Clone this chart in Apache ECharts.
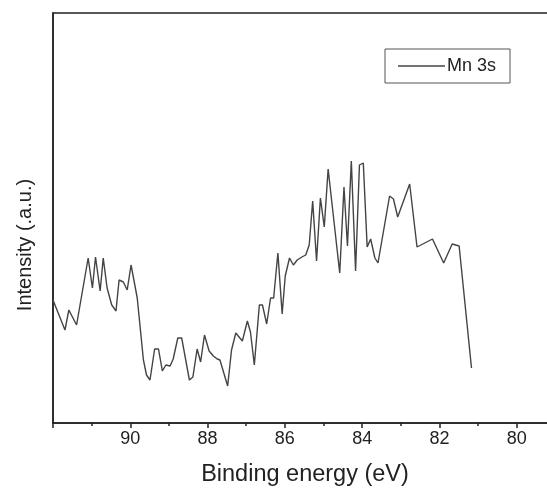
<!DOCTYPE html>
<html>
<head>
<meta charset="utf-8">
<script src="https://cdn.jsdelivr.net/npm/echarts@6/dist/echarts.min.js"></script>
<style>html,body{margin:0;padding:0;background:#fff}#c{width:547px;height:488px}</style>
</head>
<body>
<div id="c"></div>
<script>
// Binding energy (eV)
const energy = [92.0,91.69,91.59,91.39,91.09,90.98,90.90,90.78,90.70,90.60,90.48,90.37,90.29,90.18,90.08,89.98,89.82,89.66,89.58,89.49,89.37,89.27,89.17,89.08,88.97,88.89,88.77,88.67,88.47,88.38,88.27,88.18,88.08,87.96,87.85,87.75,87.68,87.58,87.48,87.38,87.27,87.10,86.97,86.89,86.79,86.66,86.58,86.47,86.37,86.29,86.18,86.07,85.99,85.88,85.78,85.68,85.56,85.46,85.37,85.28,85.18,85.08,84.98,84.88,84.58,84.47,84.38,84.28,84.17,84.07,83.97,83.87,83.78,83.67,83.59,83.29,83.19,83.08,82.77,82.58,82.18,81.89,81.67,81.49,81.17];
// Intensity (a.u.)
const intensity = [123,93,113,98,165,135,166,132,165,135,118,112,143,141,133,158,125,63,48,43,74,74,52,58,57,64,85,85,43,46,74,61,88,72,67,64,63,50,37,73,90,82,102,91,58,118,118,99,125,125,170,109,147,165,158,163,166,168,178,222,162,225,196,254,150,236,177,262,152,258,260,176,184,165,160,227,224,206,239,176,184,160,179,177,55];
const seriesName = 'Mn 3s';
const xTitle = 'Binding energy (eV)';
const yTitle = 'Intensity (.a.u.)';

const FONT = 'Liberation Sans, Arial, sans-serif';
const chart = echarts.init(document.getElementById('c'));
chart.setOption({
  animation: false,
  backgroundColor: '#fff',
  textStyle: {fontFamily: FONT},
  grid: {left: 53, top: 13, height: 410, width: 541, outerBoundsMode: 'none', containLabel: false, show: true, borderColor: '#222', borderWidth: 1.5},
  legend: {
    left: 385, top: 49, orient: 'vertical',
    borderColor: '#555', borderWidth: 1, borderRadius: 0,
    padding: [8, 14, 8, 13],
    itemWidth: 47, itemHeight: 14, itemGap: 0,
    textStyle: {fontSize: 18, color: '#222', fontFamily: FONT, padding: [0,0,0,-3]},
    data: [{name: seriesName, icon: 'path://M0,7L47,7L47,8.3L0,8.3Z'}]
  },
  xAxis: {
    type: 'value', min: 78, max: 92, interval: 2, inverse: true,
    axisLine: {show: true, lineStyle: {color: '#222', width: 1.5}},
    axisTick: {show: true, inside: false, length: 5, lineStyle: {color: '#222', width: 1.5}},
    minorTick: {show: true, splitNumber: 2, length: 3, lineStyle: {color: '#222', width: 1.5}},
    splitLine: {show: false},
    axisLabel: {fontSize: 18, color: '#222', margin: 7, showMaxLabel: false, fontFamily: FONT}
  },
  yAxis: {
    type: 'value', min: 0, max: 410,
    axisLine: {show: true, lineStyle: {color: '#222', width: 1.5}},
    axisTick: {show: false}, axisLabel: {show: false}, splitLine: {show: false}
  },
  graphic: [
    {type: 'text', x: 305, y: 475, style: {text: xTitle, fontSize: 23.5, fill: '#222', fontFamily: FONT, textAlign: 'center', textVerticalAlign: 'middle'}},
    {type: 'text', x: 25, y: 245, rotation: Math.PI / 2, style: {text: yTitle, fontSize: 20, fill: '#222', fontFamily: FONT, textAlign: 'center', textVerticalAlign: 'middle'}}
  ],
  series: [{
    name: seriesName, type: 'line', symbol: 'none',
    lineStyle: {color: '#444', width: 1.4},
    itemStyle: {color: '#444'},
    data: energy.map((e, i) => [e, intensity[i]])
  }]
});
</script>
</body>
</html>
